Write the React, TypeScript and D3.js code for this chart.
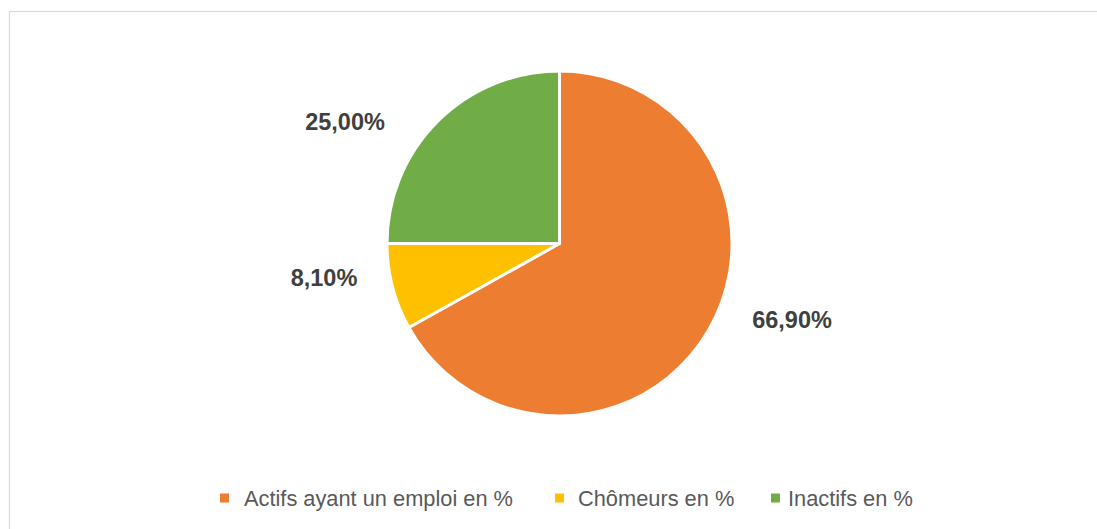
import React from "react";
import * as d3 from "d3";

const categories = ["Actifs ayant un emploi en %", "Chômeurs en %", "Inactifs en %"];
const values = [66.9, 8.1, 25.0];
const valueLabels = ["66,90%", "8,10%", "25,00%"];
const colors = ["#ED7D31", "#FFC000", "#70AD47"];

const W = 1097;
const H = 529;
const cx = 559.5;
const cy = 243.5;
const R = 172.5;
// label anchor positions (centre x, baseline y) relative to pie centre
const labelPos: [number, number][] = [
  [232.5, 84],
  [-235.5, 42],
  [-214.5, -114],
];
const legendX = [220, 555, 771];
const legendTextX = [244, 578, 788];

export default function App() {
  const pie = d3.pie<number>().sort(null).value((d) => d)(values);
  const arc = d3.arc<d3.PieArcDatum<number>>().innerRadius(0).outerRadius(R);
  return (
    <div style={{ position: "fixed", left: 0, top: 0, width: W, height: H, background: "#fff" }}>
      <svg width={W} height={H} style={{ display: "block" }}>
        <rect x={9.5} y={11.5} width={W + 20} height={H + 20} fill="#fff" stroke="#D9D9D9" strokeWidth={1.2} />
        <g transform={`translate(${cx},${cy})`}>
          {pie.map((p, i) => (
            <path key={i} d={arc(p) || ""} fill={colors[i]} stroke="#fff" strokeWidth={3} strokeLinejoin="round" />
          ))}
          {pie.map((p, i) => (
            <text
              key={"l" + i}
              x={labelPos[i][0]}
              y={labelPos[i][1]}
              textAnchor="middle"
              fontFamily="'Liberation Sans', Arial, sans-serif"
              fontWeight="bold"
              fontSize={23.5}
              fill="#404040"
            >
              {valueLabels[i]}
            </text>
          ))}
        </g>
        <g>
          {categories.map((c, i) => (
            <g key={c}>
              <rect x={legendX[i]} y={493.5} width={9} height={9} fill={colors[i]} />
              <text
                x={legendTextX[i]}
                y={506}
                fontFamily="'Liberation Sans', Arial, sans-serif"
                fontSize={21.8}
                fill="#595959"
              >
                {c}
              </text>
            </g>
          ))}
        </g>
      </svg>
    </div>
  );
}
